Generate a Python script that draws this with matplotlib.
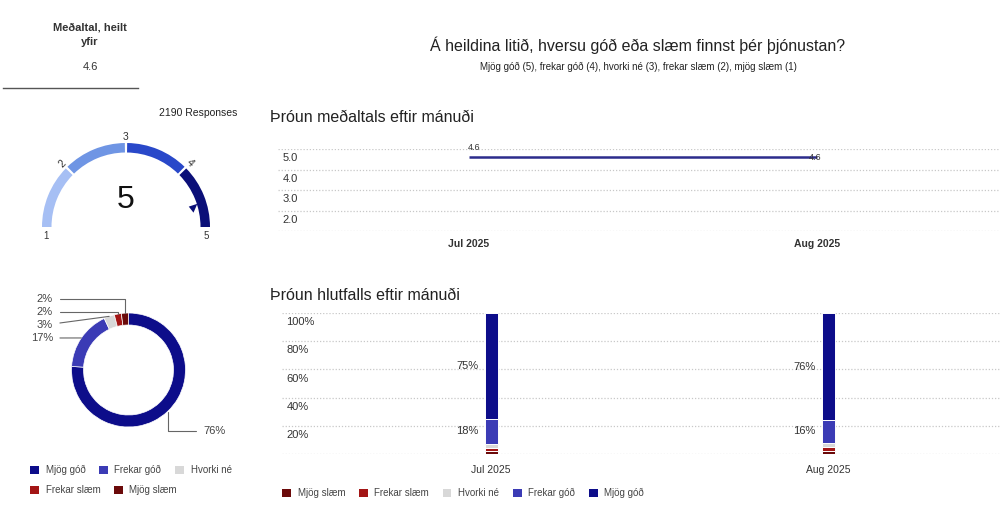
import numpy as np
import matplotlib
matplotlib.use('Agg')
import matplotlib.pyplot as plt
import matplotlib.transforms as mtransforms
from matplotlib.patches import Wedge, Polygon, Patch

plt.rcParams['font.family'] = ['Liberation Sans', 'DejaVu Sans']

W, H = 1000, 524

# overall numbers
overall_avg = 4.6
responses = 2190
gauge_min, gauge_max = 1, 5
gauge_bounds = [1, 2, 3, 4, 5]
gauge_colors = ['#a6bff4', '#6f95e4', '#2948c9', '#0b0f78']

# answer categories (best first) and overall share
categories = ['Mjög góð', 'Frekar góð', 'Hvorki né', 'Frekar slæm', 'Mjög slæm']
cat_colors = ['#0d0d8a', '#3b3bb5', '#d8d8d8', '#a31515', '#6b0a0a']
overall_share = [76, 17, 3, 2, 2]

# monthly trend
months = ['Jul 2025', 'Aug 2025']
monthly_avg = [4.6, 4.6]
monthly_share = {
    'Mjög slæm': [2, 2],
    'Frekar slæm': [2, 3],
    'Hvorki né': [3, 3],
    'Frekar góð': [18, 16],
    'Mjög góð': [75, 76],
}

TXT = '#222222'
SUB = '#444444'
GRID = '#c8c8c8'


def px_axes(fig, l, t, r, b):
    return fig.add_axes([l / W, 1 - b / H, (r - l) / W, (b - t) / H])


def fx(x):
    return x / W


def fy(y):
    return 1 - y / H


fig = plt.figure(figsize=(W / 100, H / 100), dpi=100)

# ---- headline number ----
fig.text(fx(90), fy(35), 'Meðaltal, heilt\nyfir', ha='center', va='center',
         fontsize=8, fontweight='bold', color='#333333', linespacing=1.55)
fig.text(fx(90), fy(67), f'{overall_avg}', ha='center', va='center', fontsize=8, color='#333333')
fig.add_artist(plt.Line2D([fx(3), fx(138)], [fy(88), fy(88)], color='#555555', lw=1))
fig.text(fx(237), fy(113), f'{responses} Responses', ha='right', va='center', fontsize=7.5, color=TXT)

# ---- gauge ----
gcx, gcy, g_r, g_w = 126, 227, 84, 9.5
gax = px_axes(fig, 20, 125, 235, 250)
gax.set_xlim(20 - gcx, 235 - gcx)
gax.set_ylim(gcy - 250, gcy - 125)
gax.axis('off')


def val2ang(v):
    return 180 - (v - gauge_min) / (gauge_max - gauge_min) * 180


gap = 0.8
for lo, hi, c in zip(gauge_bounds[:-1], gauge_bounds[1:], gauge_colors):
    t1 = val2ang(hi) + (gap if hi != gauge_max else 0)
    t2 = val2ang(lo) - (gap if lo != gauge_min else 0)
    gax.add_patch(Wedge((0, 0), g_r, t1, t2, width=g_w, facecolor=c, edgecolor='none'))

for v in gauge_bounds:
    a = val2ang(v)
    if v in (gauge_min, gauge_max):
        x = (g_r - 4) * np.cos(np.radians(a))
        gax.text(x, -9, str(v), ha='center', va='center', fontsize=7, color='#333333')
    else:
        x, y = 90 * np.cos(np.radians(a)), 90 * np.sin(np.radians(a))
        gax.text(x, y, str(v), ha='center', va='center', fontsize=7.5,
                 color='#333333', rotation=a - 90)

# pointer for the average
pa = val2ang(overall_avg)
pts = [(66 * np.cos(np.radians(pa)), 66 * np.sin(np.radians(pa))),
       (75 * np.cos(np.radians(pa)), 75 * np.sin(np.radians(pa))),
       (69 * np.cos(np.radians(pa - 6)), 69 * np.sin(np.radians(pa - 6)))]
gax.add_patch(Polygon(pts, closed=True, facecolor=gauge_colors[-1], edgecolor='none'))
gax.text(0, 27, f'{round(overall_avg)}', ha='center', va='center', fontsize=23, color='#111111')

# ---- donut ----
dcx, dcy, d_r = 128.5, 370, 57
dax = px_axes(fig, 10, 285, 245, 445)
wedges, _ = dax.pie(overall_share, colors=cat_colors, startangle=90, counterclock=False,
                    radius=d_r, wedgeprops=dict(width=12, edgecolor='white', lw=0.5))
dax.set_xlim(10 - dcx, 245 - dcx)
dax.set_ylim(dcy - 445, dcy - 285)
dax.set_aspect('equal', adjustable='box')

label_pos = [(74.5, -61), (-75.5, 32), (-75.5, 45), (-75.5, 58), (-75.5, 71)]
conn = ['angle,angleA=0,angleB=90,rad=0', 'arc3', 'arc3',
        'angle,angleA=0,angleB=90,rad=0', 'angle,angleA=0,angleB=90,rad=0']
for w, share, (tx, ty), cs in zip(wedges, overall_share, label_pos, conn):
    mid = np.radians((w.theta1 + w.theta2) / 2)
    ax_, ay_ = d_r * np.cos(mid), d_r * np.sin(mid)
    dax.annotate(f'{share}%', xy=(ax_, ay_), xytext=(tx, ty),
                 ha='left' if tx > 0 else 'right', va='center', fontsize=8, color=SUB,
                 arrowprops=dict(arrowstyle='-', color='#666666', lw=0.8,
                                 connectionstyle=cs, shrinkA=3, shrinkB=0))

handles = [Patch(facecolor=c, edgecolor='none') for c in cat_colors]
leg_kw = dict(frameon=False, fontsize=7, handlelength=0.9, handleheight=0.9,
              handletextpad=0.7, columnspacing=1.4, borderaxespad=0, borderpad=0,
              loc='center left', labelcolor=SUB)
fig.legend(handles[:3], categories[:3], ncol=3, bbox_to_anchor=(fx(30), fy(470)), **leg_kw)
fig.legend(handles[3:], categories[3:], ncol=2, bbox_to_anchor=(fx(30), fy(490)), **leg_kw)

# ---- titles ----
fig.text(fx(638), fy(45), 'Á heildina litið, hversu góð eða slæm finnst þér þjónustan?',
         ha='center', va='center', fontsize=11.5, color=TXT)
fig.text(fx(638), fy(67), 'Mjög góð (5), frekar góð (4), hvorki né (3), frekar slæm (2), mjög slæm (1)',
         ha='center', va='center', fontsize=7, color=TXT)
fig.text(fx(270), fy(117), 'Þróun meðaltals eftir mánuði', ha='left', va='center',
         fontsize=11.5, color=TXT)
fig.text(fx(270), fy(295), 'Þróun hlutfalls eftir mánuði', ha='left', va='center',
         fontsize=11.5, color=TXT)


def style_axis(ax, ticks, fmt):
    for s in ax.spines.values():
        s.set_visible(False)
    ax.set_yticks(ticks)
    ax.set_yticklabels([])
    ax.tick_params(axis='both', length=0)
    ax.grid(axis='y', color=GRID, linestyle=(0, (1, 1.5)), lw=0.9)
    ax.set_axisbelow(True)
    trans = mtransforms.blended_transform_factory(ax.transAxes, ax.transData)
    trans = trans + mtransforms.ScaledTranslation(0, -3 / 72, fig.dpi_scale_trans)
    for t in ticks[1:]:
        ax.text(0.006, t, fmt(t), transform=trans, ha='left', va='top',
                fontsize=8, color='#333333')


# ---- monthly average line ----
x = np.arange(len(months))
lax = px_axes(fig, 278, 149, 1000, 231)
lax.set_ylim(1, 5)
lax.set_xlim(-(469 - 278) / 348, 1 + (1000 - 817) / 348)
style_axis(lax, [1, 2, 3, 4, 5], lambda t: f'{t:.1f}')
lax.plot(x, monthly_avg, color='#2c2c8c', lw=1.8, solid_capstyle='butt')
lax.annotate(f'{monthly_avg[0]}', (x[0], monthly_avg[0]), xytext=(4, 7),
             textcoords='offset points', ha='center', va='center', fontsize=6.5, color='#333333')
lax.annotate(f'{monthly_avg[-1]}', (x[-1], monthly_avg[-1]), xytext=(-1, 0),
             textcoords='offset points', ha='center', va='center', fontsize=6.5, color='#333333')
lax.set_xticks(x)
lax.set_xticklabels(months, fontsize=7.5, color='#333333', fontweight='bold')
lax.tick_params(axis='x', pad=6)

# ---- monthly share stacked bars ----
bax = px_axes(fig, 282, 313, 1000, 454)
bax.set_ylim(0, 100)
bax.set_xlim(-(491 - 282) / 337, 1 + (1000 - 828) / 337)
style_axis(bax, [0, 20, 40, 60, 80, 100], lambda t: f'{t}%')
bar_w = 13 / 337
bottom = np.zeros(len(months))
stack_colors = dict(zip(categories, cat_colors))
for name, vals in monthly_share.items():
    vals = np.array(vals, dtype=float)
    bax.bar(x, vals, bar_w, bottom=bottom, color=stack_colors[name],
            edgecolor='white', lw=0.7)
    for xi, b, v in zip(x, bottom, vals):
        if v >= 10:
            bax.annotate(f'{int(v)}%', (xi - bar_w / 2, b + v / 2), xytext=(-4, 0),
                         textcoords='offset points', ha='right', va='center',
                         fontsize=8, color='#333333')
    bottom += vals
bax.set_xticks(x)
bax.set_xticklabels(months, fontsize=7.5, color='#333333')
bax.tick_params(axis='x', pad=8)

bar_names = list(monthly_share.keys())
fig.legend([Patch(facecolor=stack_colors[n], edgecolor='none') for n in bar_names], bar_names,
           ncol=5, bbox_to_anchor=(fx(282), fy(493)), **leg_kw)

fig.savefig('out.png', dpi=100, facecolor='white')
